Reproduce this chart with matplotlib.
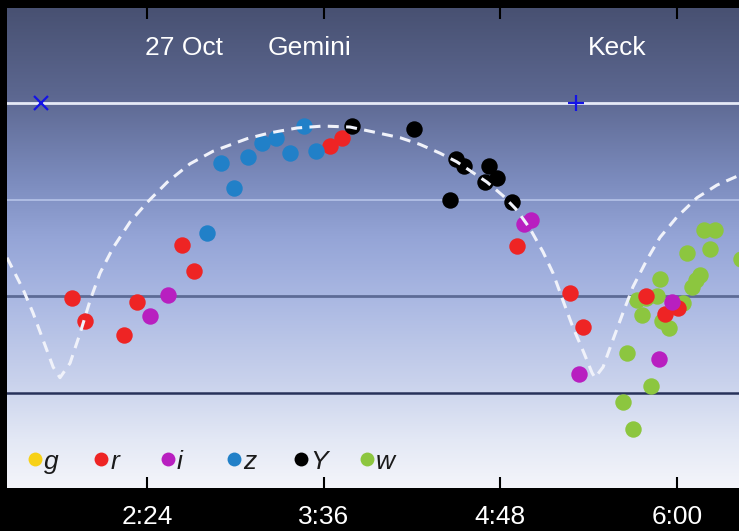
import numpy as np
import matplotlib
matplotlib.use('Agg')
import matplotlib.pyplot as plt
from matplotlib.colors import LinearSegmentedColormap

plt.rcParams['font.family'] = ['Liberation Sans', 'DejaVu Sans']

# time in minutes after 0:00 UT, y in relative units (guide lines at 0..3)
r_t = [113.4, 118.7, 134.6, 139.9, 158.3, 163.2, 218.6, 223.5, 294.8, 316.4, 321.7, 347.4, 355.1, 360.4]
r_y = [0.98, 0.75, 0.60, 0.94, 1.53, 1.26, 2.55, 2.64, 1.52, 1.04, 0.68, 1.00, 0.82, 0.88]

i_t = [145.2, 152.6, 297.7, 300.5, 320.1, 358.0, 352.7]
i_y = [0.80, 1.01, 1.75, 1.79, 0.20, 0.94, 0.35]

z_t = [168.5, 174.2, 179.5, 185.2, 190.9, 196.6, 202.3, 208.0, 212.9]
z_y = [1.66, 2.38, 2.12, 2.44, 2.59, 2.64, 2.48, 2.76, 2.50]

Y_t = [227.6, 252.8, 269.9, 273.2, 267.5, 283.4, 281.8, 286.7, 292.8]
Y_y = [2.76, 2.73, 2.42, 2.35, 2.00, 2.35, 2.18, 2.22, 1.98]

w_t = [371.0, 375.5, 373.5, 364.1, 386.0, 353.1, 369.5, 367.6, 366.1, 343.7, 351.9,
       345.7, 362.5, 356.8, 339.6, 349.4, 338.0, 342.1, 354.1, 347.2]
w_y = [1.69, 1.69, 1.49, 1.45, 1.39, 1.18, 1.22, 1.17, 1.10, 0.96, 1.00,
       0.81, 0.93, 0.67, 0.41, 0.07, -0.09, -0.37, 0.75, 0.98]

# model curve
curve_t = [86.9, 93.5, 97.5, 101.6, 105.7, 108.5, 112.6, 116.7, 120.8, 124.8, 130.1,
           137.1, 144.0, 152.2, 161.5, 170.9, 184.8, 194.1, 205.1, 215.7, 226.7, 236.1,
           247.1, 255.3, 263.4, 270.3, 275.6, 282.6, 289.1, 294.8, 300.1, 305.4, 309.5,
           313.5, 317.6, 321.7, 325.4, 326.6, 329.9, 333.9, 338.0, 342.1, 347.8, 353.1,
           360.0, 368.2, 376.3, 385.3]
curve_y = [1.40, 1.07, 0.83, 0.55, 0.27, 0.16, 0.31, 0.62, 0.96, 1.24, 1.50,
           1.77, 1.97, 2.18, 2.37, 2.50, 2.63, 2.69, 2.74, 2.76, 2.75, 2.70,
           2.64, 2.57, 2.48, 2.39, 2.30, 2.18, 2.04, 1.89, 1.70, 1.46, 1.24,
           0.96, 0.68, 0.44, 0.21, 0.16, 0.27, 0.55, 0.83, 1.10, 1.38, 1.61,
           1.82, 2.02, 2.15, 2.25]

# telescope markers
x_mark_t, x_mark_y = [100.8], [3.0]
plus_mark_t, plus_mark_y = [319.0], [3.0]

tick_min = [144, 216, 288, 360]
tick_lab = ['2:24', '3:36', '4:48', '6:00']

filters = ['g', 'r', 'i', 'z', 'Y', 'w']
fcolors = ['#f7d117', '#ee2424', '#b81fc0', '#2180c8', '#000000', '#8cc63f']

xmin, xmax = 86.9, 385.3
ymin, ymax = -0.98, 3.98

fig = plt.figure(figsize=(7.39, 5.31), dpi=100, facecolor='black')
ax = fig.add_axes([7 / 739, 43 / 531, 1 - 7 / 739, 480 / 531])

# sky gradient
cmap = LinearSegmentedColormap.from_list('sky', [
    (0.0, '#f4f5fa'), (0.10, '#e3e8f5'), (0.22, '#c9d2ec'), (0.40, '#a9b7e2'),
    (0.52, '#95a5d7'), (0.64, '#7c8cbe'), (0.82, '#5c6790'), (1.0, '#485172')])
grad = np.linspace(0, 1, 256).reshape(-1, 1)
ax.imshow(grad, cmap=cmap, origin='lower', aspect='auto',
          extent=[xmin, xmax, ymin, ymax], zorder=0)

ax.axhline(3, color='#e6eaf7', lw=2.0, zorder=1)
ax.axhline(2, color='#b6c3e8', lw=1.2, zorder=1)
ax.axhline(1, color='#5d6b96', lw=2.0, zorder=1)
ax.axhline(0, color='#27325a', lw=1.8, zorder=1)

s = 140
ax.scatter(w_t, w_y, s=s, color=fcolors[5], lw=0, zorder=2)
ax.scatter(r_t, r_y, s=s, color=fcolors[1], lw=0, zorder=3)
ax.scatter(i_t, i_y, s=s, color=fcolors[2], lw=0, zorder=4)
ax.scatter(z_t, z_y, s=s, color=fcolors[3], lw=0, zorder=4)
ax.scatter(Y_t, Y_y, s=s, color=fcolors[4], lw=0, zorder=4)

ax.plot(curve_t, curve_y, color='#f0f2fa', lw=2.2, ls=(0, (3.6, 2.4)),
        solid_joinstyle='round', zorder=5)

ax.plot(x_mark_t, x_mark_y, 'x', color='#1414e6', ms=10, mew=1.6, zorder=6)
ax.plot(plus_mark_t, plus_mark_y, '+', color='#1414e6', ms=11, mew=1.6, zorder=6)

# labels at top
for txt, xf in [('27 Oct', 0.2418), ('Gemini', 0.4126), ('Keck', 0.8333)]:
    ax.text(xf, 0.902, txt, transform=ax.transAxes, ha='center', va='baseline',
            color='white', fontsize=19)

# filter key
for k, (f, c) in enumerate(zip(filters, fcolors)):
    x0 = 0.0383 + k * 0.0907
    ax.scatter([x0], [0.0604], s=100, color=c, lw=0, transform=ax.transAxes, zorder=7)
    ax.text(x0 + 0.0125, 0.0396, f, transform=ax.transAxes, ha='left', va='baseline',
            fontsize=19, style='italic', color='#1a1a1a', zorder=7)

ax.set_xlim(xmin, xmax)
ax.set_ylim(ymin, ymax)
ax.set_xticks(tick_min)
ax.set_xticklabels(tick_lab)
ax.set_yticks([])
ax.tick_params(axis='x', direction='in', length=8, width=1.5, color='black',
               top=True, labelcolor='white', labelsize=19, pad=12)
for sp in ax.spines.values():
    sp.set_visible(False)

fig.savefig('out.png', dpi=100, facecolor='black')
